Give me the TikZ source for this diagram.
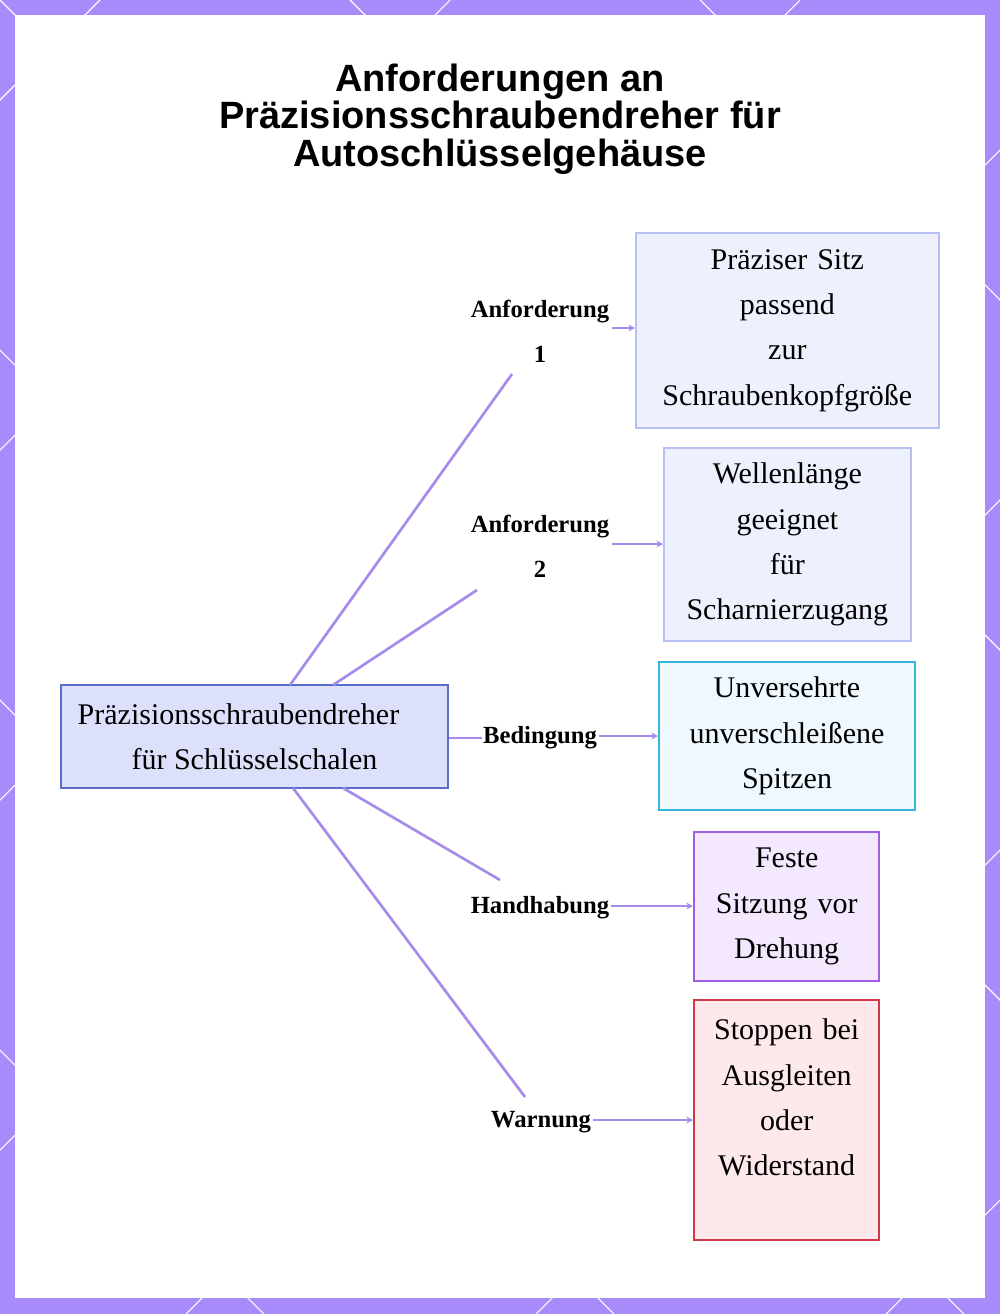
\documentclass[tikz,border=0pt]{standalone}
\usepackage{fontspec}
\setmainfont{Liberation Serif}
\newfontfamily\titlefont{Liberation Sans}
\begin{document}
\begin{tikzpicture}[x=0.75pt,y=-0.75pt,
 lab/.style={font=\bfseries\fontsize{18.5}{34}\selectfont,align=center,fill=white,inner sep=2pt},
 box/.style={draw,line width=1.5pt,align=center,font=\fontsize{22.5}{34}\selectfont,anchor=north west,inner sep=0pt},
 con/.style={draw=lineC,line width=2pt},
 arr/.style={con,-{Stealth[length=5pt,width=5pt]}}]
\usetikzlibrary{arrows.meta}
\definecolor{frameC}{HTML}{A78BFA}
\definecolor{lineC}{HTML}{A68BEB}
\useasboundingbox (0,0) rectangle (1000,1314);
\fill[frameC] (0,0) rectangle (1000,1314);
\begin{scope}
\clip (0,0) rectangle (1000,1314) (15,15) rectangle (985,1298);
\foreach \c in {-1400,-1050,...,2400}{\draw[white,line width=0.8pt] (\c,0) -- ++(1400,1400); \draw[white,line width=0.8pt] (\c+100,0) -- ++(-1400,1400);}
\end{scope}
\fill[white] (15,15) rectangle (985,1298);
\node[font=\titlefont\bfseries\fontsize{28.5}{28}\selectfont,align=center] (t) at (500,119) {Anforderungen an\\Präzisionsschraubendreher für\\Autoschlüsselgehäuse};
\node[draw={rgb,255:red,91;green,109;blue,203},fill={rgb,255:red,221;green,224;blue,250},line width=1.5pt,minimum width=290pt,minimum height=77pt,font=\fontsize{22.5}{34}\selectfont,align=center] (c) at (254.5,736.5) {\hspace*{-24pt}Präzisionsschraubendreher\\für Schlüsselschalen};
\node[box,draw={rgb,255:red,183;green,192;blue,245},fill={rgb,255:red,238;green,240;blue,253},minimum width=227pt,minimum height=146pt,text width=227pt] (b1) at (635,232) {Präziser Sitz\\passend\\zur\\Schraubenkopfgröße};
\node[box,draw={rgb,255:red,183;green,192;blue,245},fill={rgb,255:red,238;green,240;blue,253},minimum width=185pt,minimum height=145pt,text width=185pt] (b2) at (663,447) {Wellenlänge\\geeignet\\für\\Scharnierzugang};
\node[box,draw={rgb,255:red,51;green,181;blue,221},fill={rgb,255:red,238;green,248;blue,254},minimum width=192pt,minimum height=111pt,text width=192pt] (b3) at (658,661) {Unversehrte\\unverschleißene\\Spitzen};
\node[box,draw={rgb,255:red,159;green,95;blue,224},fill={rgb,255:red,243;green,232;blue,253},minimum width=139pt,minimum height=112pt,text width=139pt] (b4) at (693,831) {Feste\\Sitzung vor\\Drehung};
\node[box,draw={rgb,255:red,208;green,57;blue,74},fill={rgb,255:red,253;green,232;blue,236},minimum width=139pt,minimum height=180pt,text width=139pt] (b5) at (693,999) {Stoppen bei\\Ausgleiten\\oder\\Widerstand\\\mbox{}};
\coordinate (s1) at (290,685); \coordinate (e1) at (512,374);
\coordinate (s2) at (333,685); \coordinate (e2) at (477,590);
\coordinate (s4) at (343,788); \coordinate (e4) at (500,880);
\coordinate (s5) at (293,788); \coordinate (e5) at (525,1097);
\draw[con] (s1)--(e1); \draw[con] (s2)--(e2); \draw[con] (s4)--(e4); \draw[con] (s5)--(e5);
\node[lab] (l1) at (540,331) {Anforderung\\1};
\node[lab] (l2) at (540,546) {Anforderung\\2};
\node[lab,inner sep=1pt] (l3) at (540,738) {Bedingung};
\node[lab,inner sep=1pt] (l4) at (540,908) {Handhabung};
\node[lab,inner sep=1pt] (l5) at (541,1122) {Warnung};
\draw[con] (c.east|-l3) -- (l3.west);
\draw[arr] (l1.east|-0,328) -- (b1.west|-0,328);
\draw[arr] (l2.east|-0,544) -- (b2.west|-0,544);
\draw[arr] (l3.east|-0,736) -- (b3.west|-0,736);
\draw[arr] (l4.east|-0,906) -- (b4.west|-0,906);
\draw[arr] (l5.east|-0,1120) -- (b5.west|-0,1120);
\end{tikzpicture}
\end{document}
